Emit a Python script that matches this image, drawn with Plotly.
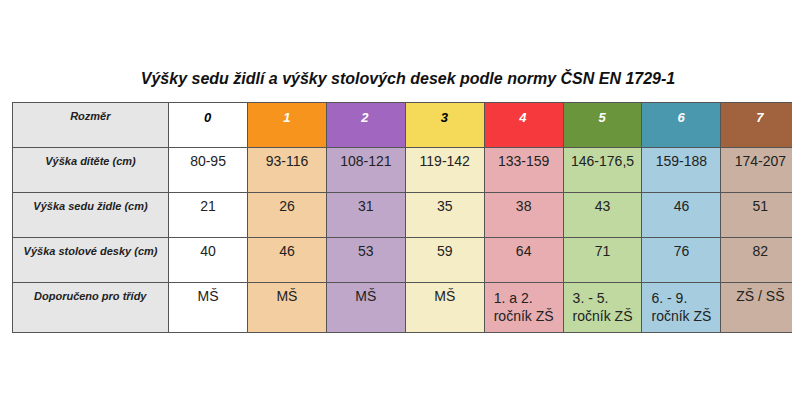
import plotly.graph_objects as go

title = "Výšky sedu židlí a výšky stolových desek podle normy ČSN EN 1729-1"
row_labels = ["Výška dítěte (cm)", "Výška sedu židle (cm)", "Výška stolové desky (cm)", "Doporučeno pro třídy"]
sizes = ["0", "1", "2", "3", "4", "5", "6", "7"]
child_height = ["80-95", "93-116", "108-121", "119-142", "133-159", "146-176,5", "159-188", "174-207"]
seat_height = ["21", "26", "31", "35", "38", "43", "46", "51"]
desk_height = ["40", "46", "53", "59", "64", "71", "76", "82"]
grades = ["MŠ", "MŠ", "MŠ", "MŠ", "1. a 2.<br>ročník ZŠ", "3. - 5.<br>ročník ZŠ", "6. - 9.<br>ročník ZŠ", "ZŠ / SŠ"]

head_colors = ["#e6e6e6", "#ffffff", "#f7941d", "#a066c0", "#f5da5a", "#f5393c", "#6a953d", "#4a98ad", "#a0633d"]
body_colors = ["#e6e6e6", "#ffffff", "#f2cea0", "#bea7c9", "#f4edc6", "#e7adb0", "#bfd9a0", "#a6cddf", "#c9b0a1"]
head_font = ["#222222", "#000000", "#ffffff", "#ffffff", "#000000", "#ffffff", "#ffffff", "#ffffff", "#ffffff"]

header = ["<b><i>Rozměr</i></b>"] + [f"<b><i>{s}</i></b>" for s in sizes]
cols = [[f"<b><i>{r}</i></b>" for r in row_labels]]
for i in range(len(sizes)):
    cols.append([child_height[i], seat_height[i], desk_height[i], grades[i]])

fig = go.Figure(go.Table(
    columnwidth=[154] + [78] * 8,
    domain=dict(x=[0.006, 0.99], y=[0.0, 1 - 94 / 400]),
    header=dict(values=header, fill_color=head_colors, height=45,
                line=dict(color="#555555", width=1), align="center",
                font=dict(family="Liberation Sans, Arial", size=[11] + [13] * 8, color=head_font)),
    cells=dict(values=cols, fill_color=body_colors, height=45,
               line=dict(color="#555555", width=1), align="center",
               font=dict(family="Liberation Sans, Arial", size=[11] + [14] * 8, color="#222222")),
))
fig.update_layout(
    width=800, height=400, paper_bgcolor="white", plot_bgcolor="white",
    margin=dict(l=0, r=0, t=0, b=0),
    title=dict(text=f"<b><i>{title}</i></b>", x=0.5, y=1 - 70 / 400, xanchor="center", yanchor="middle",
               font=dict(family="Liberation Sans, Arial", size=16, color="#111111")),
)
fig.write_html("out.html")
